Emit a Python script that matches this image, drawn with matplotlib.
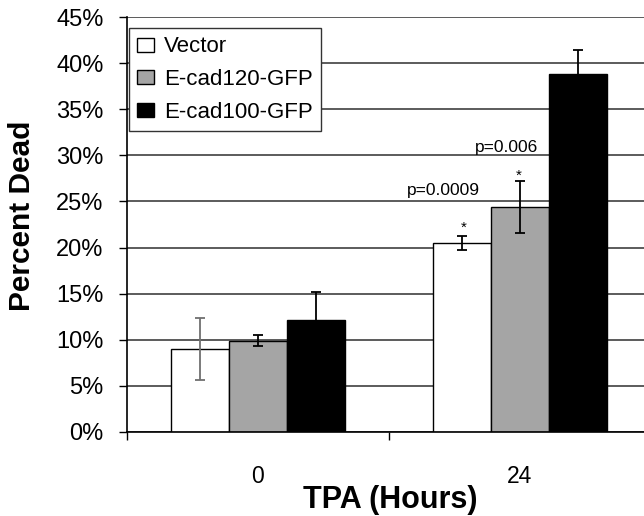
import matplotlib
matplotlib.use("Agg")
import matplotlib.pyplot as plt
import numpy as np

plt.rcParams['font.family'] = ['Liberation Sans', 'DejaVu Sans']

groups = ["0", "24"]
series = ["Vector", "E-cad120-GFP", "E-cad100-GFP"]
vector = [9.0, 20.5]
ecad120 = [9.9, 24.4]
ecad100 = [12.1, 38.8]
vector_err = [3.4, 0.8]
ecad120_err = [0.6, 2.8]
ecad100_err = [3.1, 2.6]
yticks = [0, 5, 10, 15, 20, 25, 30, 35, 40, 45]
ytick_labels = ["0%", "5%", "10%", "15%", "20%", "25%", "30%", "35%", "40%", "45%"]
pvalues = ["p=0.0009", "p=0.006"]

fig = plt.figure(figsize=(6.44, 5.16), dpi=100)
ax = fig.add_axes([127/644, 84/516, 517/644, 415/516])

x = np.arange(len(groups))
w = 0.221
colors = ["white", "#a5a5a5", "black"]
vals = [vector, ecad120, ecad100]
errs = [vector_err, ecad120_err, ecad100_err]
ecols = [["#707070", "black"], ["black", "black"], ["black", "black"]]
offsets = [-w, 0, w]
for i in range(3):
    ax.bar(x + offsets[i], vals[i], w, color=colors[i], edgecolor="black",
           linewidth=1.0, label=series[i], zorder=2)
    for j in range(len(groups)):
        ax.errorbar(x[j] + offsets[i], vals[i][j], yerr=errs[i][j], fmt='none',
                    ecolor=ecols[i][j], elinewidth=1.3, capsize=3.5, capthick=1.3,
                    zorder=3)

ax.set_ylim(0, 45)
ax.set_xlim(-0.5, -0.5 + 517/262)
ax.set_yticks(yticks)
ax.set_yticklabels(ytick_labels, fontsize=17)
ax.yaxis.grid(True, color="#404040", linewidth=1.2, zorder=0)
ax.set_axisbelow(True)
ax.set_xticks(x)
ax.set_xticklabels(groups, fontsize=16.5)
ax.set_xticks([-0.5, 0.5], minor=True)
ax.tick_params(axis='x', which='major', length=0, pad=24)
ax.tick_params(axis='x', which='minor', length=6, width=1, direction='out')
ax.tick_params(axis='y', length=6, width=1, direction='out', pad=11)
for s in ["top", "right"]:
    ax.spines[s].set_visible(False)
for s in ["left", "bottom"]:
    ax.spines[s].set_linewidth(1.2)

# annotations
ax.text(x[1] - w + 0.005, 21.7, "*", ha='center', va='baseline', fontsize=11)
ax.text(x[1] - 0.003, 27.4, "*", ha='center', va='baseline', fontsize=11)
ax.text(0.706, 25.7, pvalues[0], ha='center', va='baseline', fontsize=12.5)
ax.text(0.947, 30.4, pvalues[1], ha='center', va='baseline', fontsize=12.5)

fig.text(22/644, 1 - 216/516, "Percent Dead", rotation=90, ha='center', va='center',
         fontsize=21.5, fontweight='bold')
fig.text(390/644, 1 - 500/516, "TPA (Hours)", ha='center', va='center',
         fontsize=22, fontweight='bold')

leg = ax.legend(loc='upper left', bbox_to_anchor=(129/644, 1 - 28/516),
                bbox_transform=fig.transFigure, fontsize=16, frameon=True,
                fancybox=False, edgecolor="#333333", framealpha=1,
                handlelength=0.75, handleheight=0.6, handletextpad=0.45,
                borderpad=0.38, labelspacing=0.52, borderaxespad=0)
leg.get_frame().set_linewidth(1.0)

fig.savefig("out.png", dpi=100)
